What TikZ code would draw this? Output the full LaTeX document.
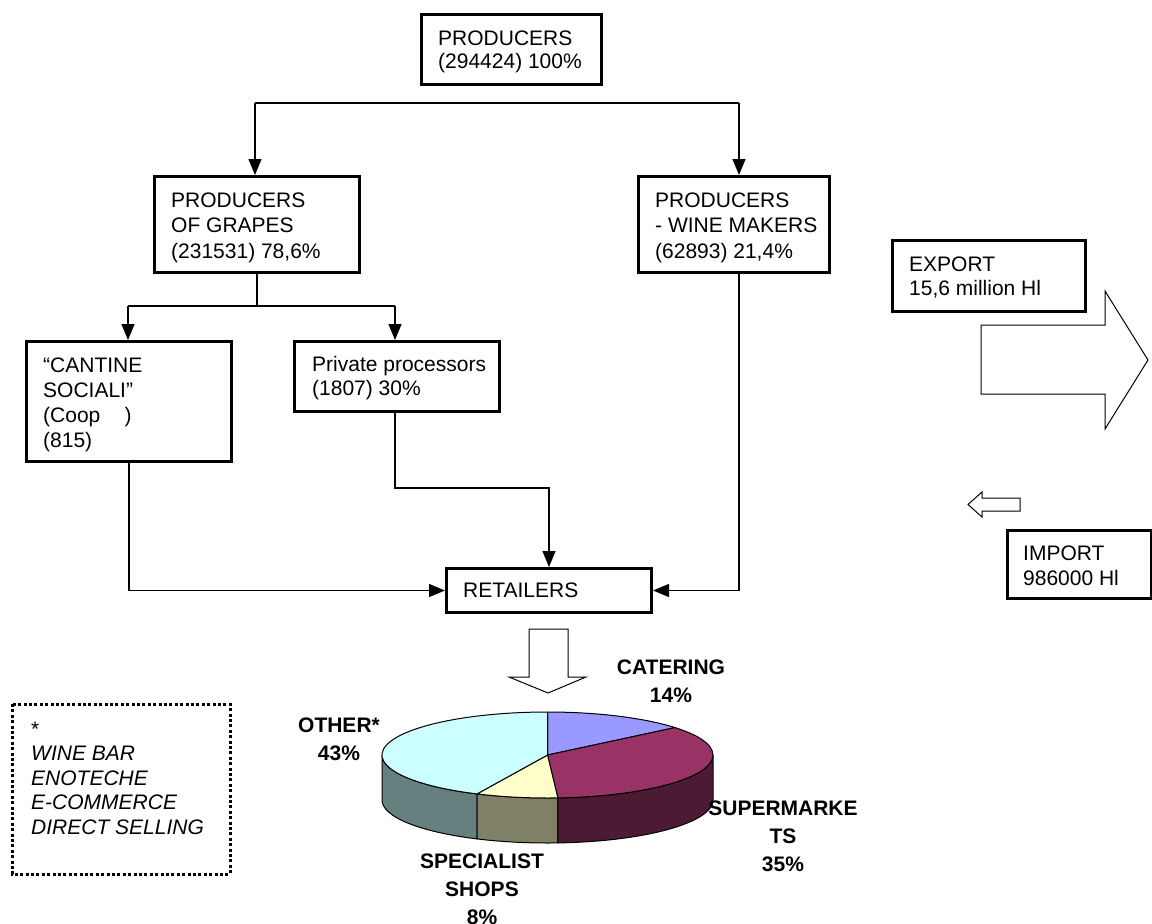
\documentclass[tikz,border=0pt]{standalone}
\usepackage{fontspec}
\setmainfont{Liberation Sans}
\usetikzlibrary{arrows.meta,calc}

\definecolor{pieCatering}{HTML}{9999FF}
\definecolor{pieSuper}{HTML}{993366}
\definecolor{pieSuperSide}{HTML}{4D1A33}
\definecolor{pieShops}{HTML}{FFFFCC}
\definecolor{pieShopsSide}{HTML}{808066}
\definecolor{pieOther}{HTML}{CCFFFF}
\definecolor{pieOtherSide}{HTML}{668080}

% left-aligned block of lines whose reference point is the first baseline
\newcommand{\rowsL}[2][25]{{\fontsize{21}{#1}\selectfont\begin{tabular}[t]{@{}l@{}}#2\end{tabular}}}
% centred block of bold lines for the pie labels
\newcommand{\rowsC}[1]{{\fontsize{21}{28}\selectfont\bfseries\begin{tabular}[t]{@{}c@{}}#1\end{tabular}}}

\tikzset{
  box/.style={draw, line width=3pt, inner sep=0pt, anchor=north west},
  txt/.style={inner sep=0pt, anchor=base west},
  plabel/.style={inner sep=0pt, anchor=base},
  link/.style={line width=1.3pt},
  arr/.style={link, -{Triangle[length=16pt,width=13pt]}},
  hollow/.style={draw, line width=1pt, fill=white, line join=miter},
  pieline/.style={draw=black, line width=1pt, line join=round},
}

\begin{document}
\begin{tikzpicture}[x=1pt,y=1pt]
\useasboundingbox (0,0) rectangle (1152,-924);

% ---- boxes of the chain
\node[box, minimum width=180pt, minimum height=70pt] (prod) at (420,-13) {};
\node[txt] (prodT) at (438,-45) {\rowsL[23]{PRODUCERS\\(294424) 100\%}};

\node[box, minimum width=205pt, minimum height=96pt] (grapes) at (153,-175) {};
\node[txt] (grapesT) at (171,-207) {\rowsL[25.5]{PRODUCERS\\OF GRAPES\\(231531) 78,6\%}};

\node[box, minimum width=191pt, minimum height=96pt] (wine) at (637,-175) {};
\node[txt] (wineT) at (655,-207) {\rowsL[25.5]{PRODUCERS\\- WINE MAKERS\\(62893) 21,4\%}};

\node[box, minimum width=205pt, minimum height=120pt] (cantine) at (25,-340) {};
\node[txt] (cantineT) at (43,-372) {\rowsL[25.3]{“CANTINE\\SOCIALI”\\(Coop\hspace{1.15em})\\(815)}};

\node[box, minimum width=205pt, minimum height=70pt] (private) at (293,-340) {};
\node[txt] (privateT) at (312,-371) {\rowsL[24]{Private processors\\(1807) 30\%}};

\node[box, minimum width=205pt, minimum height=44pt] (retail) at (445,-567) {};
\node[txt] (retailT) at (463,-597) {\rowsL{RETAILERS}};

\node[box, minimum width=193pt, minimum height=71pt] (export) at (891,-239) {};
\node[txt] (exportT) at (909,-271) {\rowsL[24]{EXPORT\\15,6 million Hl}};

\node[box, minimum width=144pt, minimum height=68pt] (import) at (1006,-529) {};
\node[txt] (importT) at (1023,-560) {\rowsL{IMPORT\\986000 Hl}};

% ---- connectors
\coordinate (splitL) at (255,-103);
\coordinate (splitR) at (739,-103);
\draw[link] (splitL) -- (splitR);
\draw[arr] (splitL) -- (splitL |- grapes.north);
\draw[arr] (splitR) -- (splitR |- wine.north);

\coordinate (forkL) at (128,-306);
\coordinate (forkR) at (395,-306);
\draw[link] (grapes.south) -- (grapes.south |- forkL);
\draw[link] (forkL) -- (forkR);
\draw[arr] (forkL) -- (forkL |- cantine.north);
\draw[arr] (forkR) -- (forkR |- private.north);

\draw[arr] (cantine.south) |- (retail.west);
\coordinate (privBend) at (395,-488);
\draw[arr] (forkR |- private.south) -- (privBend) -| (retail.north);
\draw[arr] (splitR |- wine.south) |- (retail.east);

% ---- hollow block arrows
\draw[hollow] (529,-629) -- (568,-629) -- (568,-677) -- (586,-677) -- (548,-693)
  -- (509,-677) -- (529,-677) -- cycle;
\draw[hollow] (981,-325) -- (1105,-325) -- (1105,-291) -- (1148,-360) -- (1105,-429)
  -- (1105,-394) -- (981,-394) -- cycle;
\draw[hollow] (1020,-498) -- (982,-498) -- (982,-492) -- (968,-504.5) -- (982,-517)
  -- (982,-511) -- (1020,-511) -- cycle;

% ---- 3D pie of the retail channels
\def\cx{547.5}\def\cy{-755}\def\rx{165.5}\def\ry{43}\def\dep{45}
\coordinate (pc) at (\cx,\cy);
% side walls
\filldraw[pieline, fill=pieOtherSide]
  ($(pc)+(-115.2:\rx pt and \ry pt)$) arc[start angle=-115.2, end angle=-180, x radius=\rx, y radius=\ry]
  -- ++(0,-\dep) arc[start angle=-180, end angle=-115.2, x radius=\rx, y radius=\ry] -- cycle;
\filldraw[pieline, fill=pieShopsSide]
  ($(pc)+(-86.4:\rx pt and \ry pt)$) arc[start angle=-86.4, end angle=-115.2, x radius=\rx, y radius=\ry]
  -- ++(0,-\dep) arc[start angle=-115.2, end angle=-86.4, x radius=\rx, y radius=\ry] -- cycle;
\filldraw[pieline, fill=pieSuperSide]
  ($(pc)+(0:\rx pt and \ry pt)$) arc[start angle=0, end angle=-86.4, x radius=\rx, y radius=\ry]
  -- ++(0,-\dep) arc[start angle=-86.4, end angle=0, x radius=\rx, y radius=\ry] -- cycle;
% top face
\filldraw[pieline, fill=pieCatering] (pc) -- ($(pc)+(90:\rx pt and \ry pt)$)
  arc[start angle=90, end angle=39.6, x radius=\rx, y radius=\ry] -- cycle;
\filldraw[pieline, fill=pieSuper] (pc) -- ($(pc)+(39.6:\rx pt and \ry pt)$)
  arc[start angle=39.6, end angle=-86.4, x radius=\rx, y radius=\ry] -- cycle;
\filldraw[pieline, fill=pieShops] (pc) -- ($(pc)+(-86.4:\rx pt and \ry pt)$)
  arc[start angle=-86.4, end angle=-115.2, x radius=\rx, y radius=\ry] -- cycle;
\filldraw[pieline, fill=pieOther] (pc) -- ($(pc)+(-115.2:\rx pt and \ry pt)$)
  arc[start angle=-115.2, end angle=-270, x radius=\rx, y radius=\ry] -- cycle;

% pie labels
\node[plabel] (labCat) at (671,-674) {\rowsC{CATERING\\14\%}};
\node[plabel] (labOther) at (339,-732) {\rowsC{OTHER*\\43\%}};
\node[plabel] (labSuper) at (783,-815) {\rowsC{SUPERMARKE\\TS\\35\%}};
\node[plabel] (labShops) at (482,-868) {\rowsC{SPECIALIST\\SHOPS\\8\%}};

% ---- footnote box for OTHER*
\draw[line width=3pt, dash pattern=on 3pt off 2.4pt] (12,-704) rectangle (230,-874);
\node[txt] (noteT) at (31,-736) {\rowsL[24.5]{*\\\itshape WINE BAR\\\itshape ENOTECHE\\\itshape E-COMMERCE\\\itshape DIRECT SELLING}};
\end{tikzpicture}
\end{document}
